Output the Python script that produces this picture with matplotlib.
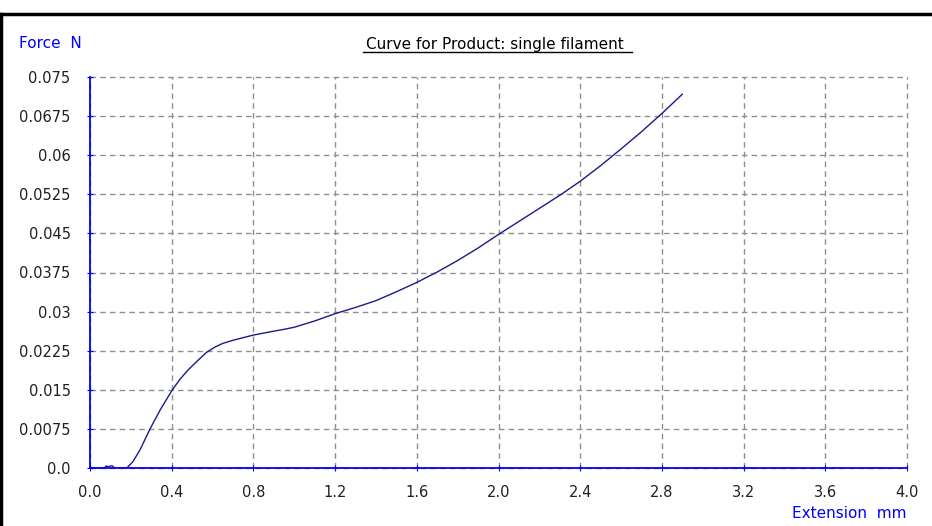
import numpy as np
import matplotlib
matplotlib.use('Agg')
import matplotlib.pyplot as plt
from matplotlib.lines import Line2D

# extension (mm) and force (N)
extension = [0.0, 0.07, 0.08, 0.09, 0.10, 0.11, 0.12, 0.18, 0.21, 0.245, 0.294, 0.343,
             0.40, 0.44, 0.48, 0.53, 0.571, 0.612, 0.65, 0.70, 0.75, 0.80, 0.88, 0.95,
             1.00, 1.10, 1.20, 1.30, 1.40, 1.50, 1.60, 1.70, 1.80, 1.90, 2.00, 2.10,
             2.20, 2.30, 2.40, 2.50, 2.60, 2.70, 2.80, 2.90]
force = [0.0, 0.0, 0.0004, 0.0002, 0.0004, 0.0004, 0.0, 0.0, 0.0012, 0.0035, 0.0075, 0.0111,
         0.0148, 0.0170, 0.0188, 0.0207, 0.0222, 0.0232, 0.0239, 0.0245, 0.0250, 0.0255, 0.0261, 0.0266,
         0.0270, 0.0282, 0.0296, 0.0308, 0.0321, 0.0338, 0.0356, 0.0376, 0.0398, 0.0422, 0.0448, 0.0473,
         0.0498, 0.0523, 0.0550, 0.0580, 0.0612, 0.0645, 0.0680, 0.0717]

x_ticks = [0.0, 0.4, 0.8, 1.2, 1.6, 2.0, 2.4, 2.8, 3.2, 3.6, 4.0]
y_ticks = [0.0, 0.0075, 0.015, 0.0225, 0.03, 0.0375, 0.045, 0.0525, 0.06, 0.0675, 0.075]
y_labels = ['0.0', '0.0075', '0.015', '0.0225', '0.03', '0.0375', '0.045', '0.0525',
            '0.06', '0.0675', '0.075']

plt.rcParams['font.family'] = ['DejaVu Sans']

W, H = 932, 526
fig = plt.figure(figsize=(W / 100, H / 100), dpi=100)
ax = fig.add_axes([90 / W, (H - 468) / H, (907 - 90) / W, (468 - 77) / H])

ax.plot(extension, force, color='#1a1a8c', lw=1.0, zorder=3)

ax.set_xlim(0, 4.0)
ax.set_ylim(0, 0.075)
ax.set_xticks(x_ticks)
ax.set_xticklabels([f'{v:.1f}' for v in x_ticks])
ax.set_yticks(y_ticks)
ax.set_yticklabels(y_labels)
ax.grid(True, color='#909090', linestyle=(0, (4, 3)), lw=1.0)
for gl in ax.get_xgridlines() + ax.get_ygridlines():
    gl.set_clip_on(False)
ax.tick_params(direction='inout', length=4, color='blue', labelsize=10.5, labelcolor='#202020')
ax.tick_params(axis='y', pad=12)
ax.tick_params(axis='x', pad=10)

for side in ['top', 'right']:
    ax.spines[side].set_visible(False)
for side in ['left', 'bottom']:
    ax.spines[side].set_color('blue')
    ax.spines[side].set_linewidth(1.3)
    ax.spines[side].set_zorder(4)

fig.text(19 / W, 1 - 44 / H, 'Force  N', color='blue', fontsize=11, va='center')
fig.text(907 / W, 1 - 514 / H, 'Extension  mm', color='blue', fontsize=11,
         ha='right', va='center')
fig.text(497 / W, 1 - 44 / H, 'Curve for Product: single filament ', color='black',
         fontsize=11, ha='center', va='center')
# underline of the title
fig.add_artist(Line2D([363 / W, 632 / W], [1 - 52 / H, 1 - 52 / H], color='black', lw=1.0))

# window frame lines (top and left)
fig.add_artist(Line2D([0, 1], [1 - 14 / H, 1 - 14 / H], color='black', lw=2.5))
fig.add_artist(Line2D([1 / W, 1 / W], [0, 1 - 14 / H], color='black', lw=2.5))

fig.savefig('out.png', dpi=100)
